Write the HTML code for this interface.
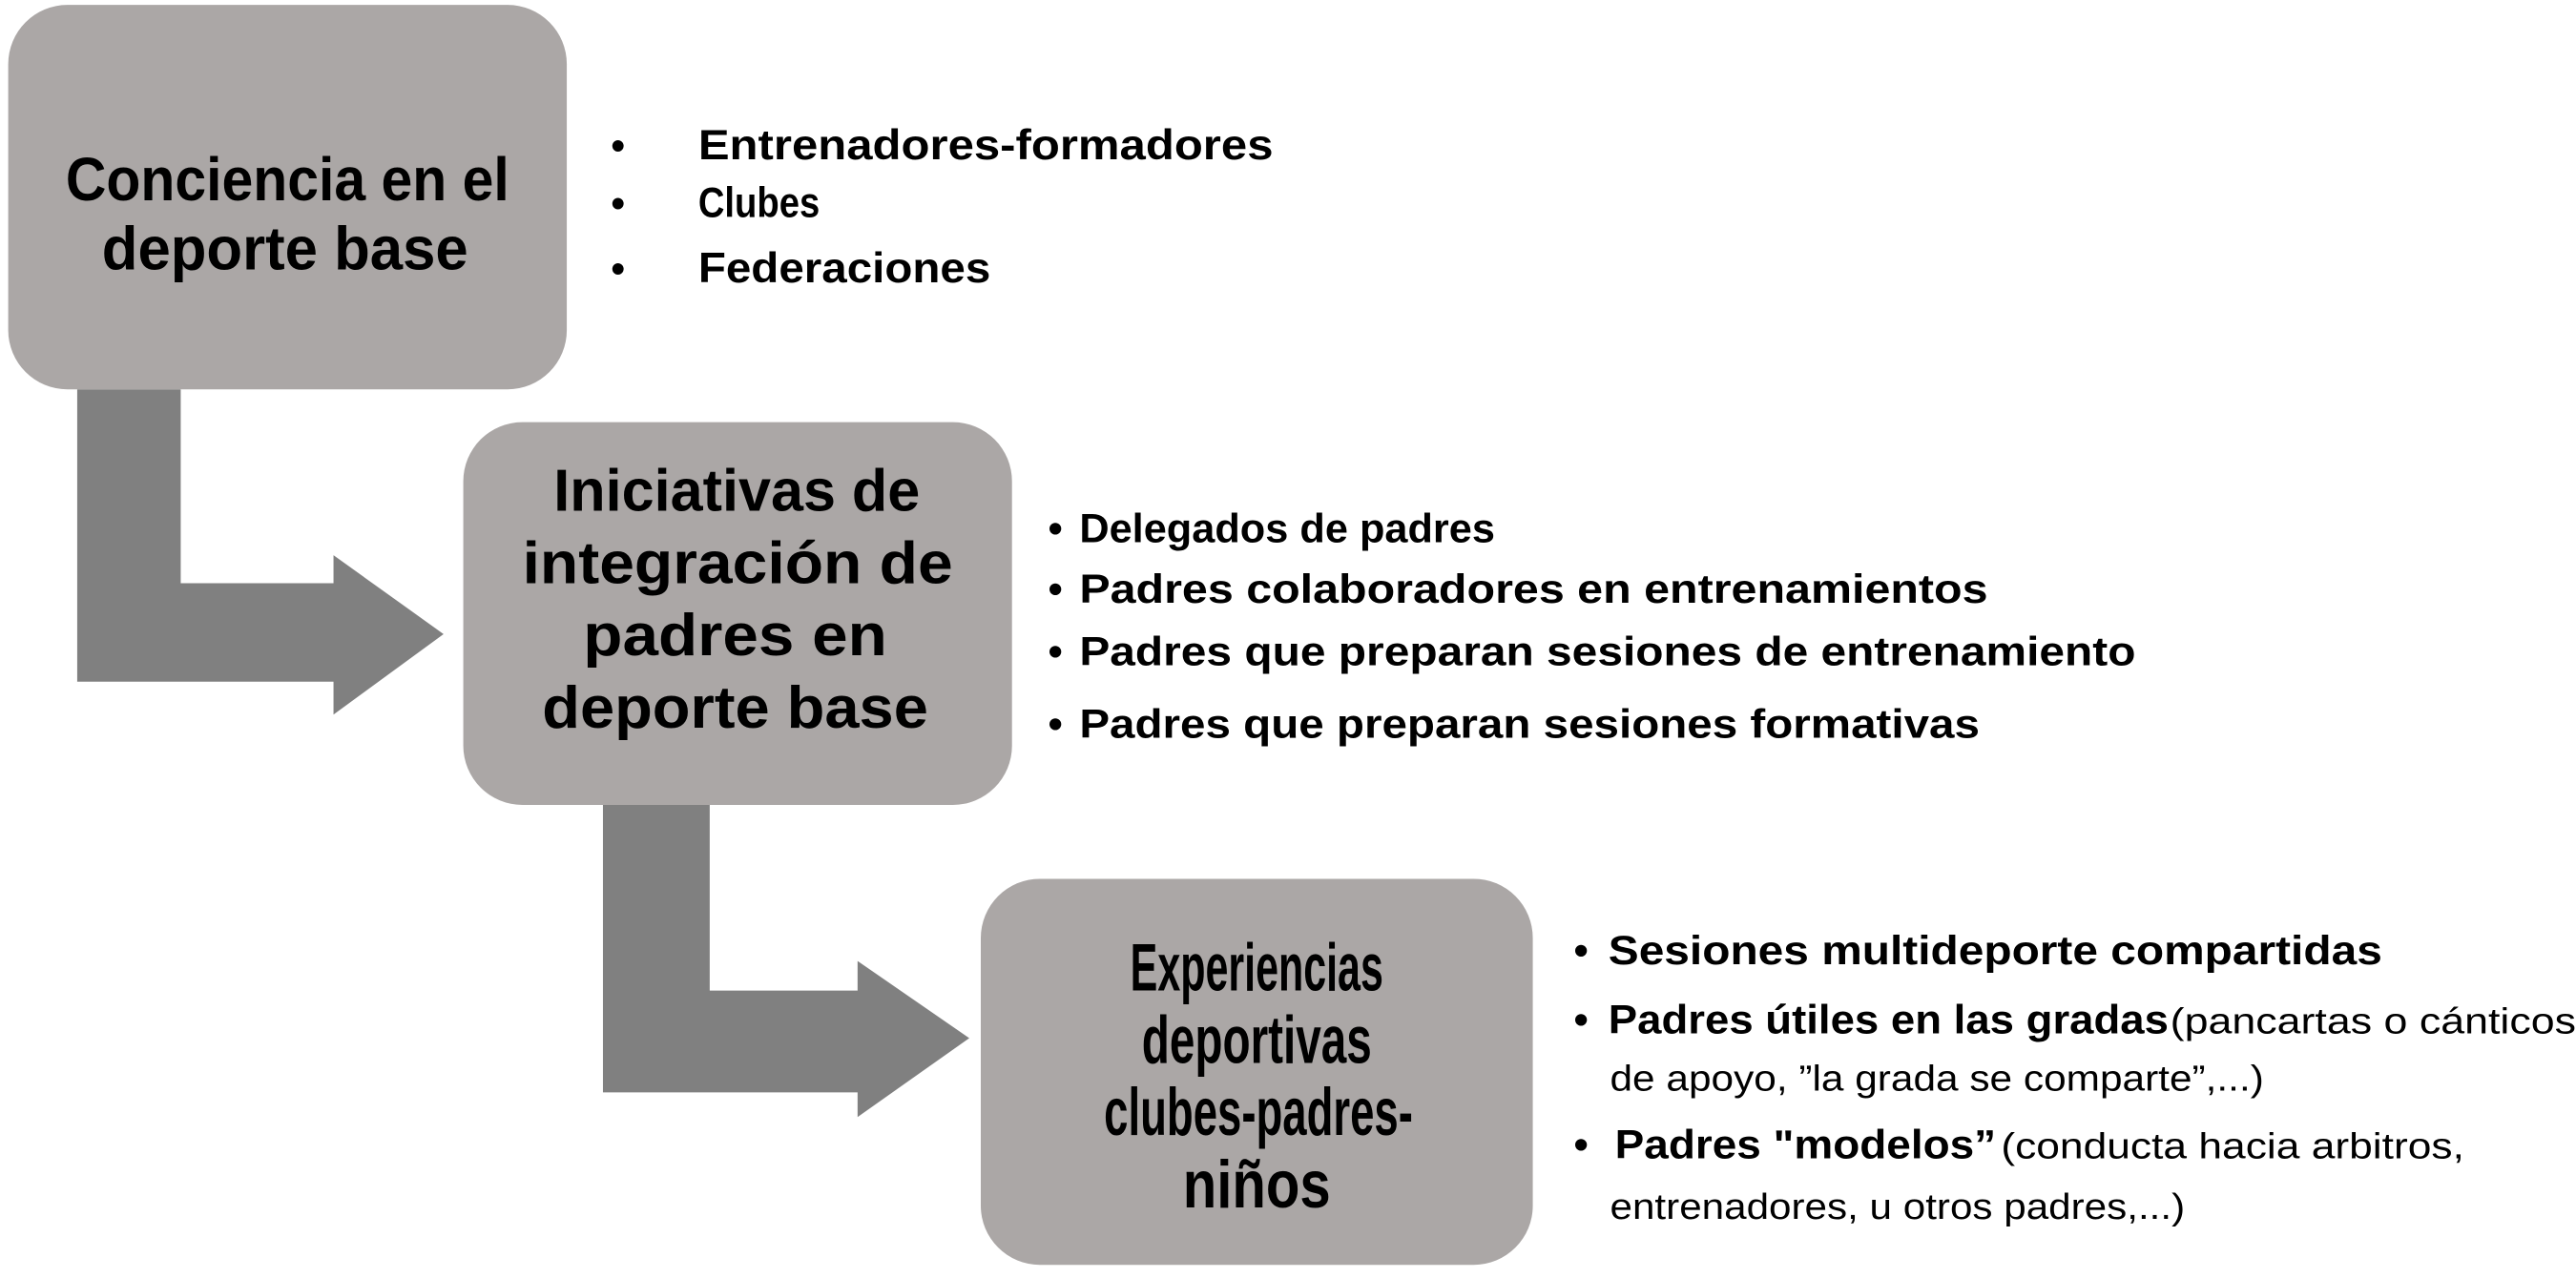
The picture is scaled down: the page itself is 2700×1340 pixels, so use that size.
<!DOCTYPE html>
<html><head><meta charset="utf-8"><style>
html,body{margin:0;padding:0;background:#fff;}
svg{display:block;}
text{font-family:"Liberation Sans",sans-serif;fill:#000;}
.b{font-weight:bold;}
</style></head><body>
<svg width="2700" height="1340" viewBox="0 0 1568 778" preserveAspectRatio="none" xmlns="http://www.w3.org/2000/svg">
<rect x="0" y="0" width="1568" height="778" fill="#fff"/>
<polygon points="47,237 110,237 110,355 203,355 203,338 270,386 203,435 203,415 47,415" fill="#808080"/>
<polygon points="367,490 432,490 432,603 522,603 522,585 590,632 522,680 522,665 367,665" fill="#808080"/>
<rect x="5" y="3" width="340" height="234" rx="36" fill="#aba7a6"/>
<rect x="282" y="257" width="334" height="233" rx="36" fill="#aba7a6"/>
<rect x="597" y="535" width="336" height="235" rx="36" fill="#aba7a6"/>
<text class="b" x="40" y="122" font-size="37" textLength="270" lengthAdjust="spacingAndGlyphs">Conciencia en el</text>
<text class="b" x="62" y="164" font-size="37" textLength="223" lengthAdjust="spacingAndGlyphs">deporte base</text>
<text class="b" x="372" y="97" font-size="24">•</text>
<text class="b" x="372" y="132" font-size="24">•</text>
<text class="b" x="372" y="172" font-size="24">•</text>
<text class="b" x="425" y="97" font-size="26" textLength="350" lengthAdjust="spacingAndGlyphs">Entrenadores-formadores</text>
<text class="b" x="425" y="132" font-size="26" textLength="74" lengthAdjust="spacingAndGlyphs">Clubes</text>
<text class="b" x="425" y="172" font-size="26" textLength="178" lengthAdjust="spacingAndGlyphs">Federaciones</text>
<text class="b" x="337" y="311" font-size="36" textLength="223" lengthAdjust="spacingAndGlyphs">Iniciativas de</text>
<text class="b" x="318" y="355" font-size="36" textLength="262" lengthAdjust="spacingAndGlyphs">integración de</text>
<text class="b" x="355" y="399" font-size="36" textLength="185" lengthAdjust="spacingAndGlyphs">padres en</text>
<text class="b" x="330" y="443" font-size="36" textLength="235" lengthAdjust="spacingAndGlyphs">deporte base</text>
<g font-size="25">
<text class="b" x="638" y="330">•</text>
<text class="b" x="638" y="367">•</text>
<text class="b" x="638" y="405">•</text>
<text class="b" x="638" y="449">•</text>
<text class="b" x="657" y="330" textLength="253" lengthAdjust="spacingAndGlyphs">Delegados de padres</text>
<text class="b" x="657" y="367" textLength="553" lengthAdjust="spacingAndGlyphs">Padres colaboradores en entrenamientos</text>
<text class="b" x="657" y="405" textLength="643" lengthAdjust="spacingAndGlyphs">Padres que preparan sesiones de entrenamiento</text>
<text class="b" x="657" y="449" textLength="548" lengthAdjust="spacingAndGlyphs">Padres que preparan sesiones formativas</text>
</g>
<text class="b" x="688" y="603" font-size="41" textLength="154" lengthAdjust="spacingAndGlyphs">Experiencias</text>
<text class="b" x="695" y="647" font-size="41" textLength="140" lengthAdjust="spacingAndGlyphs">deportivas</text>
<text class="b" x="672" y="691" font-size="41" textLength="188" lengthAdjust="spacingAndGlyphs">clubes-padres-</text>
<text class="b" x="720" y="735" font-size="41" textLength="90" lengthAdjust="spacingAndGlyphs">niños</text>
<g font-size="25">
<text class="b" x="958" y="587">•</text>
<text class="b" x="958" y="629">•</text>
<text class="b" x="958" y="705">•</text>
<text class="b" x="979" y="587" textLength="471" lengthAdjust="spacingAndGlyphs">Sesiones multideporte compartidas</text>
<text class="b" x="979" y="629" textLength="341" lengthAdjust="spacingAndGlyphs">Padres útiles en las gradas</text>
<text x="1321" y="629" font-size="22" textLength="247" lengthAdjust="spacingAndGlyphs">(pancartas o cánticos</text>
<text x="980" y="664" font-size="22" textLength="398" lengthAdjust="spacingAndGlyphs">de apoyo, ”la grada se comparte”,...)</text>
<text class="b" x="983" y="705" textLength="232" lengthAdjust="spacingAndGlyphs">Padres "modelos”</text>
<text x="1218" y="705" font-size="22" textLength="282" lengthAdjust="spacingAndGlyphs">(conducta  hacia arbitros,</text>
<text x="980" y="742" font-size="22" textLength="350" lengthAdjust="spacingAndGlyphs">entrenadores, u otros padres,...)</text>
</g>
</svg>
</body></html>
